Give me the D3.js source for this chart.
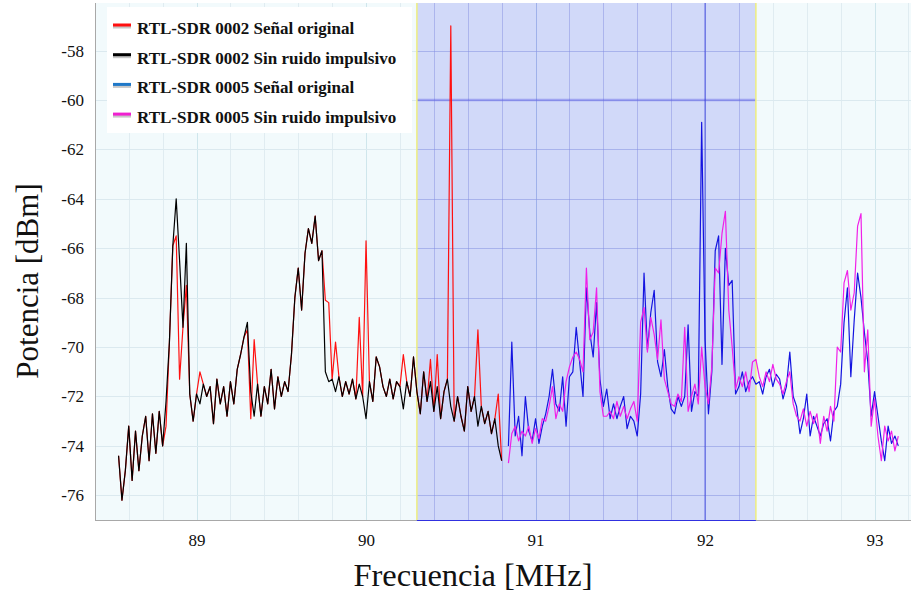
<!DOCTYPE html>
<html><head><meta charset="utf-8">
<script src="https://cdn.jsdelivr.net/npm/d3@7"></script>
<style>
html,body{margin:0;padding:0;background:#fff;}
svg{display:block;}
text{font-family:"Liberation Serif","DejaVu Serif",serif;}
</style></head><body>
<svg id="chart" width="911" height="594"></svg>
<script>
// ---- data ----
const seriesNames = ["RTL-SDR 0002 Señal original","RTL-SDR 0002 Sin ruido impulsivo","RTL-SDR 0005 Señal original","RTL-SDR 0005 Sin ruido impulsivo"];
const lineColors = ["#ff1010","#000000","#1414e0","#f020e8"];
const legendColors = ["#ff1010","#000000","#1f78c8","#f020d0"];
const xTickValues = [89,90,91,92,93];
const yTickValues = [-76,-74,-72,-70,-68,-66,-64,-62,-60,-58];
const xTitle = "Frecuencia [MHz]";
const yTitle = "Potencia [dBm]";
const highlightBand = [90.3, 92.3];
const markerFreq = [92.0];
const markerLevel = [-60];

// RTL-SDR 0002: frequency grid start / step (MHz)
const f0002Start = 88.54, f0002Step = 0.02;
const red0002 = [
 -74.4,-76.2,-75.0,-73.2,-75.4,-73.4,-75.0,-73.6,-72.8,-74.6,
 -72.7,-74.3,-72.6,-74.0,-73.2,-69.8,-65.9,-65.5,-71.3,-69.2,
 -67.5,-71.9,-73.0,-71.9,-71.0,-71.5,-72.0,-71.6,-73.1,-71.3,
 -72.3,-71.6,-72.8,-71.4,-72.3,-70.9,-70.3,-69.6,-69.3,-72.9,
 -69.7,-71.5,-72.8,-71.6,-72.3,-70.9,-72.5,-71.2,-72.0,-71.4,
 -71.8,-70.3,-68.0,-66.8,-68.5,-66.2,-65.2,-65.8,-64.7,-66.5,
 -66.1,-68.1,-68.2,-71.3,-69.8,-71.2,-72.0,-71.4,-71.9,-71.3,
 -72.1,-68.8,-72.0,-65.7,-71.4,-72.2,-70.4,-70.8,-71.6,-72.0,
 -71.3,-72.1,-71.4,-71.6,-70.3,-71.4,-72.0,-70.4,-71.8,-72.7,
 -71.0,-72.2,-70.5,-72.6,-70.3,-72.9,-71.8,-71.3,-57.0,-73.0,
 -72.0,-72.8,-73.4,-71.6,-72.6,-72.0,-69.3,-72.4,-73.1,-72.6,
 -73.5,-72.9,-71.9,-74.6];
const black0002 = [
 -74.4,-76.2,-75.0,-73.2,-75.4,-73.4,-75.0,-73.6,-72.8,-74.6,
 -72.7,-74.3,-72.6,-74.0,-72.2,-69.8,-65.9,-64.0,-66.5,-69.2,
 -65.8,-71.9,-73.0,-71.9,-72.3,-71.5,-72.0,-71.6,-73.1,-71.3,
 -72.3,-71.6,-72.8,-71.4,-72.3,-70.9,-70.3,-69.6,-69.0,-71.8,
 -72.8,-71.5,-72.8,-71.6,-72.3,-70.9,-72.5,-71.2,-72.0,-71.4,
 -71.8,-70.3,-68.0,-66.8,-68.5,-66.2,-65.2,-65.8,-64.7,-66.5,
 -66.1,-71.0,-71.4,-71.3,-71.8,-71.2,-72.0,-71.4,-71.9,-71.3,
 -72.1,-71.5,-72.0,-72.9,-71.4,-72.2,-70.4,-70.8,-71.6,-72.0,
 -71.3,-72.1,-71.4,-71.6,-72.5,-71.4,-72.0,-70.4,-71.8,-72.7,
 -71.0,-72.2,-71.4,-72.6,-71.6,-72.9,-71.8,-71.3,-72.4,-73.0,
 -72.0,-72.8,-73.4,-71.6,-72.6,-72.0,-73.2,-72.4,-73.1,-72.6,
 -73.5,-72.9,-74.0,-74.6];

// RTL-SDR 0005
const f0005Start = 90.84, f0005Step = 0.02;
const blue0005 = [
 -74.0,-69.8,-73.6,-72.8,-74.4,-72.0,-73.4,-73.8,-72.9,-73.9,
 -73.2,-72.7,-72.0,-70.9,-72.3,-72.6,-71.2,-73.2,-71.2,-71.0,
 -69.2,-70.6,-72.0,-67.6,-69.4,-70.4,-68.2,-71.3,-72.4,-71.7,
 -72.9,-72.3,-72.9,-72.4,-72.0,-73.3,-72.8,-73.0,-73.6,-71.9,
 -67.0,-70.1,-68.6,-67.7,-70.6,-71.2,-70.1,-71.6,-72.5,-72.7,
 -72.0,-72.4,-72.0,-69.1,-72.6,-71.8,-72.0,-60.9,-69.7,-72.7,
 -71.0,-66.1,-65.5,-70.7,-66.0,-67.5,-67.3,-71.9,-71.6,-71.0,
 -71.8,-71.4,-71.2,-71.5,-71.4,-71.9,-71.2,-70.9,-71.6,-71.1,
 -71.3,-72.1,-71.6,-70.2,-72.0,-72.4,-73.5,-72.9,-71.9,-73.6,
 -72.8,-73.2,-73.6,-73.1,-72.9,-73.8,-72.6,-72.4,-71.5,-69.0,
 -67.6,-71.2,-68.9,-67.0,-68.0,-69.4,-70.6,-72.8,-71.8,-72.8,
 -73.8,-74.6,-73.2,-73.9,-73.6,-74.0];
const magenta0005 = [
 -74.7,-73.5,-73.2,-73.8,-73.4,-73.6,-73.2,-73.9,-73.3,-73.7,
 -72.9,-73.0,-72.4,-71.6,-72.9,-72.3,-72.6,-71.4,-70.8,-70.4,
 -70.2,-70.5,-71.0,-66.8,-69.7,-69.4,-67.6,-71.8,-72.8,-72.8,
 -72.6,-72.9,-72.2,-72.8,-72.4,-72.9,-72.5,-72.2,-73.0,-69.0,
 -68.4,-70.2,-68.8,-69.5,-70.5,-68.9,-71.3,-71.8,-72.3,-72.4,
 -71.9,-72.2,-69.2,-72.6,-72.0,-71.5,-72.3,-70.0,-71.6,-72.3,
 -70.8,-66.8,-67.0,-65.4,-64.5,-68.5,-70.0,-71.7,-71.2,-71.6,
 -71.0,-71.8,-70.6,-70.5,-71.2,-71.6,-71.0,-71.4,-70.7,-71.3,
 -71.5,-71.9,-71.4,-71.0,-72.3,-72.8,-73.0,-72.5,-73.2,-72.6,
 -73.1,-72.7,-73.9,-72.8,-73.4,-72.4,-73.0,-70.0,-70.2,-67.4,
 -66.9,-68.5,-67.8,-65.1,-64.6,-71.0,-69.3,-73.2,-72.1,-73.6,
 -74.6,-73.2,-73.8,-73.4,-74.2,-73.6];

// ---- build series ----
function toPoints(start, step, vals){ return vals.map((v,i)=>({f: start + i*step, v: v})); }
const series = [
  toPoints(f0002Start, f0002Step, red0002),
  toPoints(f0002Start, f0002Step, black0002),
  toPoints(f0005Start, f0005Step, blue0005),
  toPoints(f0005Start, f0005Step, magenta0005)
];

// ---- layout ----
const L = 95, R = 911, T = 3, B = 520;
const svg = d3.select("#chart");
const x = d3.scaleLinear().domain([88.401, 93.215]).range([L, R]);
const y = d3.scaleLinear().domain([-77.0, -56.07]).range([B, T]);

svg.append("rect").attr("x",L).attr("y",T).attr("width",R-L).attr("height",B-T).attr("fill","#f2fafc");

const defs = svg.append("defs");
defs.append("clipPath").attr("id","plotClip").append("rect").attr("x",L).attr("y",T).attr("width",R-L).attr("height",B-T);
defs.append("clipPath").attr("id","bandClip").append("rect")
  .attr("x",x(highlightBand[0])).attr("y",T).attr("width",x(highlightBand[1])-x(highlightBand[0])).attr("height",B-T);

// grid
const vGrid = d3.range(88.6, 93.21, 0.2);
const grid = svg.append("g");
grid.selectAll("line.v").data(vGrid).join("line")
  .attr("x1",d=>Math.round(x(d))+0.5).attr("x2",d=>Math.round(x(d))+0.5).attr("y1",T).attr("y2",B)
  .attr("stroke",d=>Math.abs(d-Math.round(d))<1e-6?"#cfe6ec":"#e0ecf1").attr("stroke-width",1);
grid.selectAll("line.h").data(yTickValues).join("line")
  .attr("y1",d=>Math.round(y(d))+0.5).attr("y2",d=>Math.round(y(d))+0.5).attr("x1",L).attr("x2",R)
  .attr("stroke","#dbe9ef").attr("stroke-width",1);

// highlight band
const bx0 = x(highlightBand[0]), bx1 = x(highlightBand[1]);
svg.append("rect").attr("x",bx0).attr("y",T).attr("width",bx1-bx0).attr("height",B-T)
  .attr("fill","rgba(40,50,235,0.16)");
const bandGrid = svg.append("g").attr("clip-path","url(#bandClip)");
bandGrid.selectAll("line.v").data(vGrid).join("line")
  .attr("x1",d=>Math.round(x(d))+0.5).attr("x2",d=>Math.round(x(d))+0.5).attr("y1",T).attr("y2",B)
  .attr("stroke","rgba(70,70,225,0.18)");
bandGrid.selectAll("line.h").data(yTickValues).join("line")
  .attr("y1",d=>Math.round(y(d))+0.5).attr("y2",d=>Math.round(y(d))+0.5).attr("x1",L).attr("x2",R)
  .attr("stroke","rgba(70,70,225,0.18)");
bandGrid.selectAll("line.lvl").data(markerLevel).join("line")
  .attr("y1",d=>y(d)).attr("y2",d=>y(d)).attr("x1",bx0).attr("x2",bx1)
  .attr("stroke","rgba(80,80,230,0.38)").attr("stroke-width",2.5);
bandGrid.selectAll("line.fq").data(markerFreq).join("line")
  .attr("x1",d=>x(d)).attr("x2",d=>x(d)).attr("y1",T).attr("y2",B)
  .attr("stroke","rgba(40,40,220,0.7)").attr("stroke-width",1);
svg.selectAll("line.edge").data(highlightBand).join("line")
  .attr("x1",d=>x(d)).attr("x2",d=>x(d)).attr("y1",T).attr("y2",B)
  .attr("stroke","#eeee80").attr("stroke-width",1.5);

// axes lines
svg.append("line").attr("x1",L+0.5).attr("x2",L+0.5).attr("y1",T).attr("y2",B).attr("stroke","#a8a8a8");
svg.append("line").attr("x1",L).attr("x2",R).attr("y1",B+0.5).attr("y2",B+0.5).attr("stroke","#a8a8a8");
svg.append("line").attr("x1",bx0).attr("x2",bx1).attr("y1",B+0.5).attr("y2",B+0.5).attr("stroke","#3030e0");

// data lines
const line = d3.line().x(d=>x(d.f)).y(d=>y(d.v));
const dataG = svg.append("g").attr("clip-path","url(#plotClip)");
series.forEach((s,i)=>{
  dataG.append("path").datum(s).attr("d",line).attr("fill","none")
    .attr("stroke",lineColors[i]).attr("stroke-width",1.2).attr("stroke-linejoin","round");
});

// axes
const yAxis = svg.append("g").attr("transform",`translate(${L},0)`)
  .call(d3.axisLeft(y).tickValues(yTickValues).tickSize(0).tickPadding(11).tickFormat(d=>d));
const xAxis = svg.append("g").attr("transform",`translate(0,${B})`)
  .call(d3.axisBottom(x).tickValues(xTickValues).tickSize(0).tickPadding(14).tickFormat(d=>d));
[yAxis,xAxis].forEach(a=>{
  a.select(".domain").remove();
  a.selectAll("text").attr("font-family","Liberation Serif").attr("font-size",17).attr("fill","#111");
});

// titles
svg.append("text").attr("x",473).attr("y",586).attr("text-anchor","middle")
  .attr("font-size",32.5).attr("fill","#111").text(xTitle);
svg.append("text").attr("transform","translate(38,281) rotate(-90)").attr("text-anchor","middle")
  .attr("font-size",31).attr("fill","#111").text(yTitle);

// legend
const lg = svg.append("g");
lg.append("rect").attr("x",107).attr("y",7).attr("width",305).attr("height",126).attr("fill","#ffffff");
const rows = lg.selectAll("g.row").data(seriesNames).join("g")
  .attr("transform",(d,i)=>`translate(0,${34 + i*29.7})`);
rows.append("line").attr("x1",113).attr("x2",131).attr("y1",-7).attr("y2",-7)
  .attr("stroke","rgba(0,0,0,0.22)").attr("stroke-width",3);
rows.append("line").attr("x1",113).attr("x2",131).attr("y1",-9).attr("y2",-9)
  .attr("stroke",(d,i)=>legendColors[i]).attr("stroke-width",3);
rows.append("text").attr("x",137).attr("y",0).attr("font-size",17).attr("font-weight","bold")
  .attr("fill","#111").text(d=>d);
</script>
</body></html>
